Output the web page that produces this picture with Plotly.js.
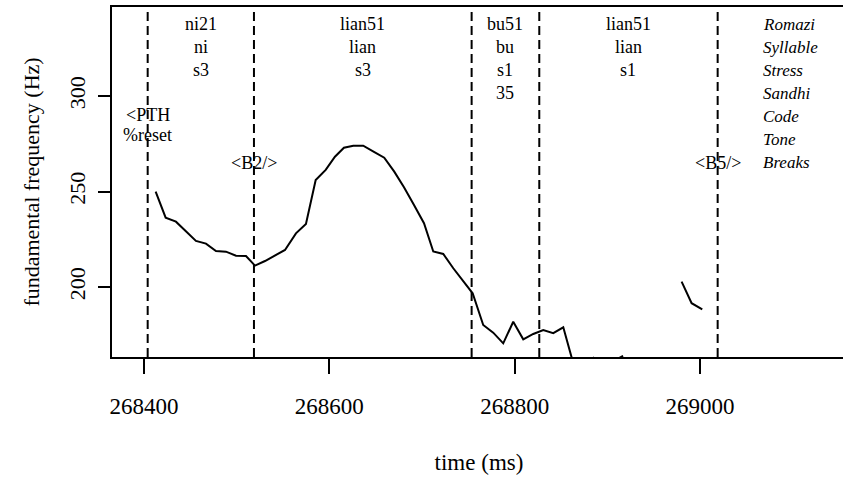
<!DOCTYPE html>
<html>
<head>
<meta charset="utf-8">
<script src="https://cdn.plot.ly/plotly-3.0.1.min.js"></script>
<style>
html, body { margin: 0; padding: 0; overflow: hidden; background: #fff; }
#chart { width: 846px; height: 480px; }
</style>
</head>
<body>
<div id="chart"></div>
<script>
// ---- data ----
const timeMs = [268412.6, 268423.4, 268434.5, 268445.3, 268456.1, 268466.9, 268477.7, 268488.5, 268499.3, 268510.1,
  268519.8, 268530.6, 268541.4, 268552.2, 268564.0, 268574.8, 268585.3, 268596.1, 268606.1, 268615.8,
  268625.9, 268636.6, 268648.2, 268659.3, 268670.1, 268680.6, 268691.4, 268702.2, 268712.2, 268723.0,
  268733.8, 268744.6, 268754.7, 268766.1, 268776.9, 268787.7, 268798.5, 268809.3, 268820.1, 268830.9,
  268841.7, 268852.5, 268863.3, 268874.0, 268885.0, 268896.0, 268906.0, 268917.0, 268950.0,
  268980.2, 268991.0, 269002.5];
const f0Hz = [249.9, 236.3, 234.2, 229.3, 224.1, 222.7, 218.8, 218.5, 216.4, 216.2,
  211.2, 213.6, 216.4, 219.4, 228.1, 233.0, 256.0, 261.3, 268.2, 272.9,
  274.0, 274.0, 270.8, 267.7, 260.4, 252.2, 242.9, 233.4, 218.6, 217.3,
  209.8, 203.3, 196.7, 180.1, 176.1, 170.5, 181.8, 172.6, 175.4, 177.5,
  175.8, 178.9, 160.0, 156.5, 162.9, 158.0, 161.0, 164.0, null,
  202.8, 191.5, 188.3];

const boundaries = [268404, 268518.7, 268753.6, 268826.6, 269019.1];
const romazi   = ["ni21", "lian51", "bu51", "lian51"];
const syllable = ["ni", "lian", "bu", "lian"];
const stress   = ["s3", "s3", "s1", "s1"];
const sandhi   = ["", "", "35", ""];
const codeLabels = [{t: 268404, lines: ["<PTH", "%reset"]}];
const breakLabels = [{t: 268518.7, text: "<B2/>"}, {t: 269019.1, text: "<B5/>"}];
const tierNames = ["Romazi", "Syllable", "Stress", "Sandhi", "Code", "Tone", "Breaks"];
const xTicks = [268400, 268600, 268800, 269000];
const yTicks = [200, 250, 300];

// ---- layout helpers ----
const PLOT_TOP = 7, PLOT_BOTTOM = 357;
function paperY(px) { return (PLOT_BOTTOM - px) / (PLOT_BOTTOM - PLOT_TOP); }
const rowPx = [24, 47, 70.5, 93.5, 116.5, 139.5, 162.5];
const esc = s => s.replace(/&/g, '&amp;').replace(/</g, '&lt;').replace(/>/g, '&gt;');
const serif = '"Liberation Serif", "Times New Roman", serif';

const annotations = [];
const tiers = [romazi, syllable, stress, sandhi];
for (let i = 0; i < romazi.length; i++) {
  const xc = (boundaries[i] + boundaries[i + 1]) / 2;
  tiers.forEach((tier, r) => {
    if (!tier[i]) return;
    annotations.push({x: xc, xref: 'x', y: paperY(rowPx[r]), yref: 'paper', text: esc(tier[i]),
      showarrow: false, xanchor: 'center', yanchor: 'middle', font: {family: serif, size: 18, color: '#000'}});
  });
}
codeLabels.forEach(c => {
  const ys = [115, 135];
  c.lines.forEach((ln, k) => annotations.push({x: c.t, xref: 'x', y: paperY(ys[k]), yref: 'paper', text: esc(ln),
    showarrow: false, xanchor: 'center', yanchor: 'middle', font: {family: serif, size: 18, color: '#000'}}));
});
breakLabels.forEach(b => annotations.push({x: b.t, xref: 'x', y: paperY(rowPx[6]), yref: 'paper', text: esc(b.text),
  showarrow: false, xanchor: 'center', yanchor: 'middle', font: {family: serif, size: 18, color: '#000'}}));
tierNames.forEach((n, r) => annotations.push({x: 269066, xref: 'x', y: paperY(rowPx[r]), yref: 'paper', text: n,
  showarrow: false, xanchor: 'left', yanchor: 'middle', font: {family: serif, size: 17, color: '#000', style: 'italic'}}));

const shapes = boundaries.map(b => ({type: 'line', xref: 'x', yref: 'paper', x0: b, x1: b, y0: 0, y1: 1,
  line: {color: '#000', width: 2, dash: '9px,5px'}}));

const trace = {x: timeMs, y: f0Hz, type: 'scatter', mode: 'lines', connectgaps: false,
  line: {color: '#000', width: 2}, hoverinfo: 'skip'};

const layout = {
  width: 846, height: 480,
  margin: {l: 112, r: 0, t: PLOT_TOP, b: 480 - PLOT_BOTTOM, pad: 0},
  paper_bgcolor: '#fff', plot_bgcolor: '#fff',
  showlegend: false,
  font: {family: serif, color: '#000'},
  xaxis: {range: [268365.5, 269157.6], tickvals: xTicks, ticktext: xTicks.map(String),
    ticks: 'outside', ticklen: 15, tickwidth: 2, tickcolor: '#000',
    showline: true, mirror: true, linewidth: 2, linecolor: '#000', showgrid: false, zeroline: false,
    tickfont: {family: serif, size: 23, color: '#000'}, ticklabelstandoff: 12,
    title: {text: 'time (ms)', font: {family: serif, size: 23, color: '#000'}, standoff: 36}},
  yaxis: {range: [163.35, 346.6], tickvals: yTicks, ticktext: yTicks.map(String),
    ticks: 'outside', ticklen: 12, tickwidth: 2, tickcolor: '#000', tickangle: -90,
    showline: true, mirror: true, linewidth: 2, linecolor: '#000', showgrid: false, zeroline: false,
    tickfont: {family: serif, size: 22, color: '#000'}, ticklabelstandoff: 4,
    title: {text: 'fundamental frequency (Hz)', font: {family: serif, size: 22, color: '#000'}, standoff: 20}},
  annotations: annotations,
  shapes: shapes
};

Plotly.newPlot('chart', [trace], layout, {displayModeBar: false, staticPlot: true});
</script>
</body>
</html>
